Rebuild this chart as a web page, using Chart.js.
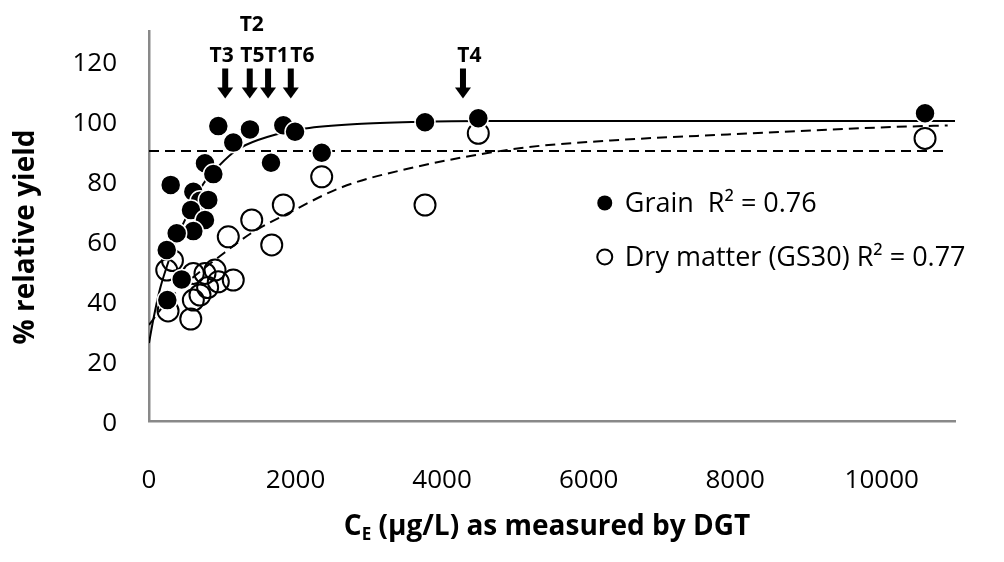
<!DOCTYPE html>
<html>
<head>
<meta charset="utf-8">
<script src="https://cdn.jsdelivr.net/npm/chart.js@4/dist/chart.umd.min.js"></script>
<style>
  html, body { margin: 0; padding: 0; background: #fff; }
</style>
</head>
<body>
<canvas id="myChart" width="1004" height="562"></canvas>
<script>
// grain yield (filled circles)
const grainX = [946, 1378, 1833, 1993, 1150, 2357, 1665, 764, 878, 296, 605, 696, 809, 573, 764, 605, 378, 242, 446, 250, 3767, 4494, 10591];
const grainY = [98.3, 97.2, 98.6, 96.4, 92.8, 89.4, 86.1, 85.9, 82.3, 78.7, 76.4, 73.4, 73.7, 70.3, 67, 63.3, 62.6, 57, 47.2, 40.3, 99.6, 100.9, 102.6];

// dry matter GS30 (open circles)
const dryX = [242, 320, 260, 570, 605, 605, 696, 764, 800, 901, 946, 1150, 1082, 1402, 1675, 1833, 2357, 3767, 4494, 10591];
const dryY = [50.3, 53.5, 36.7, 34, 49.2, 40.3, 42, 49.2, 44.5, 50.3, 46.4, 47, 61.4, 67, 58.7, 72, 81.4, 72, 95.9, 94.2];

// fitted curves
const grainFitX = [0, 60, 150, 250, 380, 510, 740, 875, 1150, 1320, 1730, 2130, 2840, 3650, 4570, 11000];
const grainFitY = [26, 34, 44, 52, 61, 68, 79, 83, 89.5, 92, 95.5, 97.5, 99, 99.7, 100, 100];
const dryFitX = [0, 250, 510, 970, 1420, 1880, 2640, 3610, 5080, 6300, 7900, 10150, 10900];
const dryFitY = [32, 40, 46, 55, 63, 69, 78, 84.5, 91, 93.5, 95.5, 98, 98.5];

// 90% relative yield line
const refX = [0, 10900];
const refY = [90, 90];

const xTicks = [0, 2000, 4000, 6000, 8000, 10000];
const yTicks = [0, 20, 40, 60, 80, 100, 120];

// treatment arrows
const treatNames = ["T3", "T5", "T1", "T6", "T4"];
const treatX = [1040, 1375, 1625, 1935, 4285];
const treatLabelX = [992, 1410, 1744, 2094, 4372];

const legendNames = ["Grain  R\u00b2 = 0.76", "Dry matter (GS30) R\u00b2 = 0.77"];

const pts = (xs, ys) => xs.map((v, i) => ({ x: v, y: ys[i] }));

const FONT = '"Open Sans", sans-serif';
Chart.defaults.font.family = FONT;
Chart.defaults.color = "#000";

const extras = {
  id: "extras",
  afterDatasetsDraw(chart) {
    const { ctx, scales: { x, y } } = chart;
    ctx.save();
    ctx.fillStyle = "#000";

    // arrows + labels
    ctx.font = "bold 21px " + FONT;
    ctx.textAlign = "center";
    ctx.textBaseline = "middle";
    treatX.forEach((v, i) => {
      const px = x.getPixelForValue(v);
      const top = y.getPixelForValue(117.5);
      const tip = y.getPixelForValue(107.5);
      ctx.fillRect(px - 3, top, 6, tip - top - 10);
      ctx.beginPath();
      ctx.moveTo(px - 8, tip - 11);
      ctx.lineTo(px + 8, tip - 11);
      ctx.lineTo(px, tip);
      ctx.closePath();
      ctx.fill();
      ctx.fillText(treatNames[i], x.getPixelForValue(treatLabelX[i]), y.getPixelForValue(121.8));
    });
    ctx.fillText("T2", x.getPixelForValue(1402), y.getPixelForValue(132));

    // legend
    const lx = x.getPixelForValue(6220);
    const ly = [y.getPixelForValue(72.7), y.getPixelForValue(54.7)];
    ctx.font = "27px " + FONT;
    ctx.textAlign = "left";
    ctx.beginPath();
    ctx.arc(lx, ly[0], 7.5, 0, Math.PI * 2);
    ctx.fill();
    ctx.beginPath();
    ctx.arc(lx, ly[1], 7.5, 0, Math.PI * 2);
    ctx.lineWidth = 2;
    ctx.strokeStyle = "#000";
    ctx.stroke();
    ctx.fillText(legendNames[0], lx + 20, ly[0] + 1);
    ctx.fillText(legendNames[1], lx + 20, ly[1] + 1);

    // y axis title
    ctx.save();
    ctx.translate(26, 237);
    ctx.rotate(-Math.PI / 2);
    ctx.textAlign = "center";
    ctx.font = "bold 28px " + FONT;
    ctx.fillText("% relative yield", 0, 0);
    ctx.restore();

    // x axis title with subscript E
    const cx = 547;
    const ty = 527;
    const big = "bold 28px " + FONT, small = "bold 17px " + FONT;
    const rest = " (\u00b5g/L) as measured by DGT";
    ctx.font = big;
    const wC = ctx.measureText("C").width, wR = ctx.measureText(rest).width;
    ctx.font = small;
    const wE = ctx.measureText("E").width;
    let sx = cx - (wC + wE + wR) / 2;
    ctx.font = big;
    ctx.fillText("C", sx, ty);
    ctx.font = small;
    ctx.fillText("E", sx + wC, ty + 8);
    ctx.font = big;
    ctx.fillText(rest, sx + wC + wE, ty);
    ctx.restore();
  }
};

const ctx = document.getElementById("myChart");

new Chart(ctx, {
  type: "scatter",
  data: {
    datasets: [
      {
        label: "Grain",
        data: pts(grainX, grainY),
        pointRadius: 10,
        pointBackgroundColor: "#000",
        pointBorderColor: "#fff",
        pointBorderWidth: 1.5,
        order: 1
      },
      {
        label: "Dry matter (GS30)",
        data: pts(dryX, dryY),
        pointRadius: 10.5,
        pointBackgroundColor: "rgba(0,0,0,0)",
        pointBorderColor: "#000",
        pointBorderWidth: 2,
        order: 2
      },
      {
        label: "Grain fit",
        data: pts(grainFitX, grainFitY),
        showLine: true,
        pointRadius: 0,
        borderColor: "#000",
        borderWidth: 2,
        cubicInterpolationMode: "monotone",
        order: 3
      },
      {
        label: "Dry matter fit",
        data: pts(dryFitX, dryFitY),
        showLine: true,
        pointRadius: 0,
        borderColor: "#000",
        borderWidth: 2,
        borderDash: [10, 6],
        cubicInterpolationMode: "monotone",
        order: 4
      },
      {
        label: "90%",
        data: pts(refX, refY),
        showLine: true,
        pointRadius: 0,
        borderColor: "#000",
        borderWidth: 2,
        borderDash: [10, 6],
        order: 5
      }
    ]
  },
  options: {
    responsive: false,
    animation: false,
    layout: { padding: { left: 0, right: 49, top: 31, bottom: 0 } },
    plugins: {
      legend: { display: false },
      tooltip: { enabled: false }
    },
    scales: {
      x: {
        type: "linear",
        min: 0,
        max: 11000,
        afterBuildTicks: (s) => { s.ticks = xTicks.map(v => ({ value: v })); },
        afterFit: (s) => { s.height = 141; s.paddingLeft = 0; s.paddingRight = 0; },
        grid: { display: false, drawTicks: false },
        border: { display: true, color: "#898989", width: 2.5 },
        ticks: { padding: 44, font: { size: 26 }, color: "#000", maxRotation: 0, callback: (v) => String(v) }
      },
      y: {
        min: 0,
        max: 130,
        afterBuildTicks: (s) => { s.ticks = yTicks.map(v => ({ value: v })); },
        afterFit: (s) => { s.width = 149; s.paddingTop = 0; s.paddingBottom = 0; },
        grid: { display: false, drawTicks: false },
        border: { display: true, color: "#898989", width: 2.5 },
        ticks: { padding: 32, labelOffset: 3, font: { size: 26 }, color: "#000", callback: (v) => String(v) }
      }
    }
  },
  plugins: [extras]
});
</script>
</body>
</html>
